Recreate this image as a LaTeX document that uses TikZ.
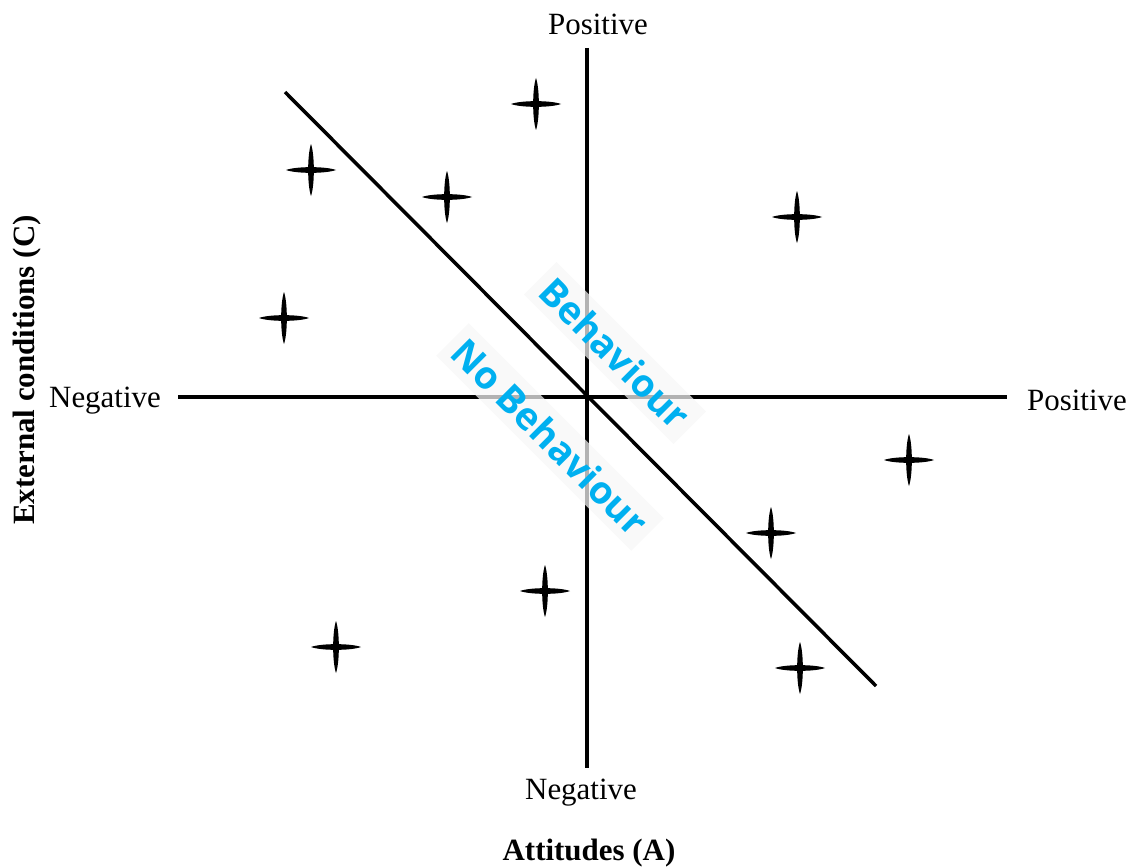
\documentclass[tikz,border=0pt]{standalone}
\usepackage{fontspec}
\setmainfont{Liberation Serif}
\newfontfamily\behfont{Open Sans}
\usetikzlibrary{positioning}
\definecolor{behblue}{RGB}{0,176,240}

\begin{document}
\begin{tikzpicture}[x=0.025cm,y=-0.025cm,
  axis/.style={line width=2.5pt},
  axislabel/.style={font=\fontsize{22}{26}\selectfont},
  axistitle/.style={font=\fontsize{22}{26}\selectfont\bfseries},
  zone/.style={font=\behfont\bfseries\fontsize{27}{32}\selectfont,text=behblue,rotate=-45,
    fill=white!97!black,fill opacity=0.72,text opacity=1,inner sep=6pt},
  starmark/.pic={
    \fill (-25,0) .. controls (-15,3.8) and (15,3.8) .. (25,0) .. controls (15,-3.8) and (-15,-3.8) .. cycle;
    \fill (0,-26) .. controls (3.8,-15) and (3.8,15) .. (0,26) .. controls (-3.8,15) and (-3.8,-15) .. cycle;
  }
]
  \useasboundingbox (0,0) rectangle (1132,867);

  \coordinate (xl) at (178,397);
  \coordinate (xr) at (1007,397);
  \coordinate (yt) at (587,48);
  \coordinate (yb) at (587,768);
  \coordinate (dtop) at (285,92);
  \coordinate (dbot) at (876,686);

  \draw[axis] (xl) -- (xr);
  \draw[axis] (yt) -- (yb);
  \draw[axis] (dtop) -- (dbot);

  \node[axislabel] (xneg) at (105,401) {Negative};
  \node[axislabel] (xpos) at (1077,400) {Positive};
  \node[axislabel] (ypos) at (598,24) {Positive};
  \node[axislabel] (yneg) at (581,793) {Negative};
  \node[axistitle] (xtitle) at (589,853) {Attitudes (A)};
  \node[axistitle,rotate=90] (ytitle) at (27,370) {External conditions (C)};

  \node[zone] (beh) at (615,353) {Behaviour};
  \node[zone] (nobeh) at (550,437) {No Behaviour};

  \foreach \px/\py [count=\i] in {536/104,311/170,447/197,797/217,284/318,
      909/460,771/533,545/591,336/647,800/668}
    \pic (star\i) at (\px,\py) {starmark};
\end{tikzpicture}
\end{document}
